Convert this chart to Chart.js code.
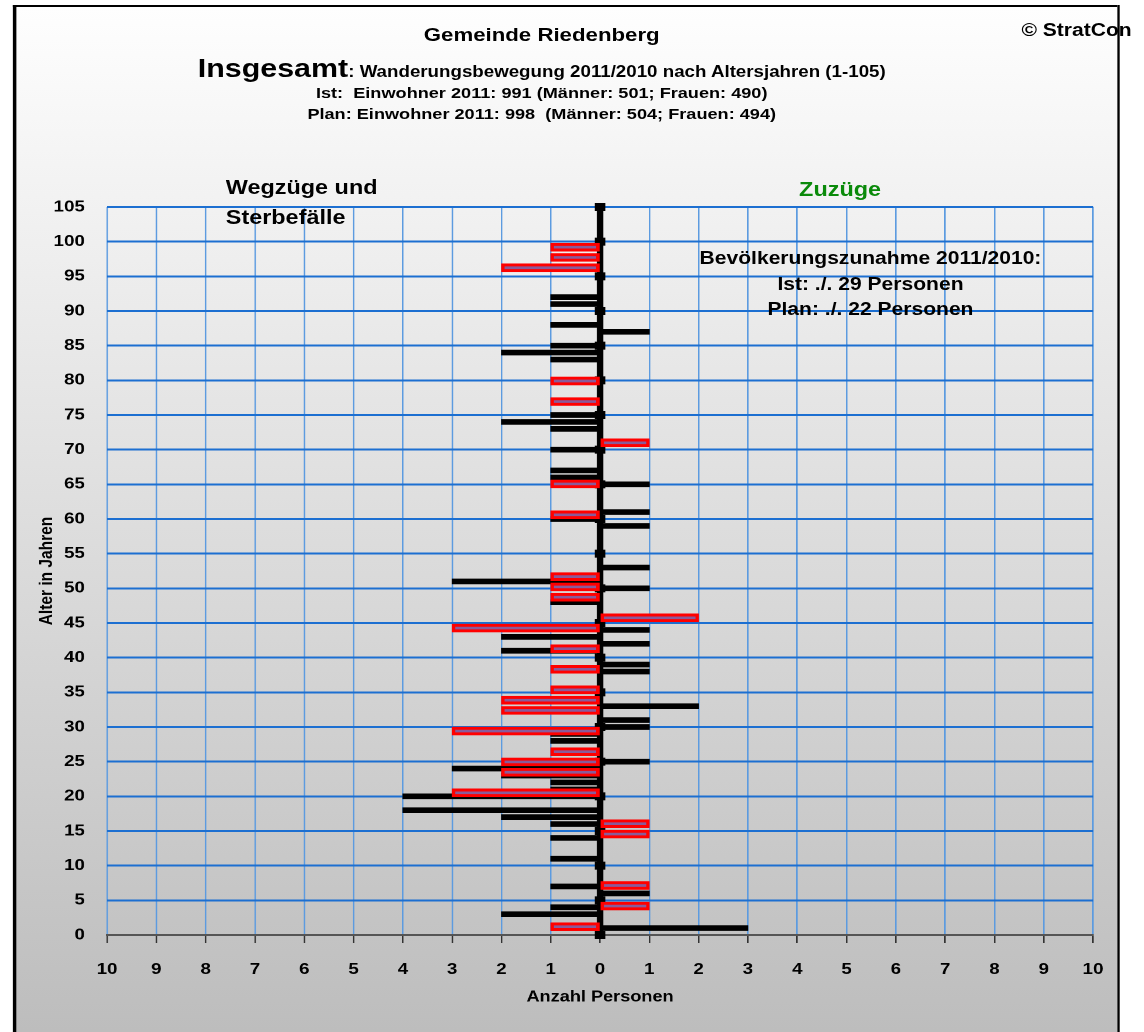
<!DOCTYPE html>
<html lang="de">
<head>
<meta charset="UTF-8">
<title>Gemeinde Riedenberg - Wanderungsbewegung 2011/2010</title>
<script src="https://cdn.jsdelivr.net/npm/chart.js"></script>
<style>
    html, body {
        margin: 0;
        padding: 0;
        background: #fff;
        overflow: hidden;
    }
    /* Excel-Grafik ist horizontal gestreckt, daher scaleX */
    #page {
        position: absolute;
        left: 0;
        top: 0;
        width: 978px;
        height: 1032px;
        transform: scaleX(1.17);
        transform-origin: 0 0;
        font-family: 'Liberation Sans', Arial, sans-serif;
        font-weight: bold;
        color: #000;
    }
    #rahmen {
        position: absolute;
        left: 11px;
        top: 5px;
        width: 941px;
        height: 1040px;
        border-left: 3px solid #000;
        border-top: 2px solid #000;
        background: linear-gradient(#fefefe, #bcbcbc);
    }
    #rahmenRechts {
        position: absolute;
        left: 955px;
        top: 5px;
        width: 2px;
        height: 1040px;
        background: #000;
    }
    canvas {
        position: absolute;
        left: 0;
        top: 0;
    }
    .txt {
        position: absolute;
        white-space: pre;
        line-height: 1;
    }
    .mitte {
        transform: translateX(-50%);
        text-align: center;
    }
</style>
</head>
<body>
<div id="page">
    <div id="rahmen"></div>
    <canvas id="chart" width="978" height="1032"></canvas>

    <div class="txt mitte" style="left:463px; top:25px; font-size:19px;">Gemeinde Riedenberg</div>
    <div class="txt mitte" style="left:463px; top:55px; font-size:26px;">Insgesamt<span style="font-size:16px;">: Wanderungsbewegung 2011/2010 nach Altersjahren (1-105)</span></div>
    <div class="txt mitte" style="left:463px; top:85px; font-size:15.5px;">Ist:  Einwohner 2011: 991 (Männer: 501; Frauen: 490)</div>
    <div class="txt mitte" style="left:463px; top:106px; font-size:15.5px;">Plan: Einwohner 2011: 998  (Männer: 504; Frauen: 494)</div>
    <div class="txt" style="left:873px; top:21px; font-size:18px;">© StratCon</div>
    <div id="rahmenRechts"></div>

    <div class="txt" style="left:193px; top:172px; font-size:20px; line-height:30px;">Wegzüge und
Sterbefälle</div>
    <div class="txt mitte" style="left:718px; top:179px; font-size:20px; color:#0a8a0a;">Zuzüge</div>
    <div class="txt mitte" style="left:744px; top:246px; font-size:18px; line-height:25.5px;">Bevölkerungszunahme 2011/2010:
Ist: ./. 29 Personen
Plan: ./. 22 Personen</div>
</div>

<script>
    // Ist: Wegzüge/Sterbefälle (links) und Zuzüge (rechts) je Altersjahr
    const istWegAlter = [92, 91, 88, 85, 84, 83, 75, 74, 73, 70, 67, 66, 60, 51, 48, 43, 41, 29, 28, 24, 23, 22, 21, 20, 18, 17, 16, 14, 11, 7, 4, 3];
    const istWeg      = [1, 1, 1, 1, 2, 1, 1, 2, 1, 1, 1, 1, 1, 3, 1, 2, 2, 1, 1, 3, 2, 1, 1, 4, 4, 2, 1, 1, 1, 1, 1, 2];
    const istZuAlter  = [87, 65, 61, 59, 53, 50, 44, 42, 39, 38, 33, 31, 30, 25, 6, 1];
    const istZu       = [1, 1, 1, 1, 1, 1, 1, 1, 1, 1, 2, 1, 1, 1, 1, 3];

    // Plan: liegt in Excel auf einer eigenen Sekundärachse (Kategorie-Nr. 0..70)
    const planWegKat = [0, 13, 15, 16, 17, 19, 21, 22, 23, 25, 27, 29, 32, 33, 34, 40, 43, 51, 53, 64, 65, 66];
    const planWeg    = [1, 3, 2, 2, 1, 3, 2, 2, 1, 1, 1, 3, 1, 1, 1, 1, 1, 1, 1, 2, 1, 1];
    const planZuKat  = [2, 4, 9, 10, 30, 47];
    const planZu     = [1, 1, 1, 1, 2, 1];

    const schrift = { family: "'Liberation Sans', Arial, sans-serif", weight: 'bold' };

    function punkte(pos, werte, vz) {
        return pos.map((p, i) => ({ x: vz * werte[i], y: p }));
    }

    const planStil = {
        yAxisID: 'y2',
        grouped: false,
        barPercentage: 1,
        categoryPercentage: 1,
        maxBarThickness: 8,
        backgroundColor: '#8a5a9a',
        borderColor: '#ff0000',
        borderWidth: 3,
        borderSkipped: false
    };
    const istStil = {
        yAxisID: 'y',
        grouped: false,
        barPercentage: 1,
        categoryPercentage: 1,
        maxBarThickness: 5,
        backgroundColor: '#000'
    };

    // dicke Nulllinie mit Kreuz-Teilstrichen
    const nullLinie = {
        id: 'nullLinie',
        beforeDatasetsDraw(chart) {
            const { ctx, scales: { x, y } } = chart;
            const x0 = x.getPixelForValue(0);
            const oben = y.getPixelForValue(105);
            const unten = y.getPixelForValue(0);
            ctx.save();
            ctx.fillStyle = '#000';
            ctx.fillRect(x0 - 2.8, oben, 5.6, unten - oben);
            y.ticks.forEach(t => {
                const py = y.getPixelForValue(t.value);
                ctx.fillRect(x0 - 4.5, py - 4, 9, 8);
            });
            ctx.restore();
        }
    };

    new Chart(document.getElementById('chart'), {
        type: 'bar',
        data: {
            datasets: [
                Object.assign({ label: 'Plan Wegzüge', data: punkte(planWegKat, planWeg, -1) }, planStil),
                Object.assign({ label: 'Plan Zuzüge', data: punkte(planZuKat, planZu, 1) }, planStil),
                Object.assign({ label: 'Ist Wegzüge', data: punkte(istWegAlter, istWeg, -1) }, istStil),
                Object.assign({ label: 'Ist Zuzüge', data: punkte(istZuAlter, istZu, 1) }, istStil)
            ]
        },
        options: {
            indexAxis: 'y',
            responsive: false,
            devicePixelRatio: 2,
            animation: false,
            layout: { padding: { top: 207, right: 43.8, bottom: 0, left: 0 } },
            plugins: {
                legend: { display: false },
                tooltip: { enabled: false }
            },
            scales: {
                x: {
                    type: 'linear',
                    min: -10,
                    max: 10,
                    ticks: {
                        stepSize: 1,
                        callback: v => Math.abs(v),
                        font: Object.assign({ size: 16 }, schrift),
                        color: '#000',
                        padding: 17
                    },
                    grid: { color: '#5c9be0', lineWidth: 1.3, tickColor: '#333', tickLength: 8, tickWidth: 1.3 },
                    border: { display: true, color: '#555', width: 2 },
                    title: {
                        display: true,
                        text: 'Anzahl Personen',
                        font: Object.assign({ size: 15.5 }, schrift),
                        color: '#000',
                        padding: { top: 0, bottom: 25.7 }
                    },
                    afterFit(scale) { scale.height = 97; }
                },
                y: {
                    type: 'linear',
                    min: 0,
                    max: 105,
                    offset: false,
                    ticks: {
                        stepSize: 5,
                        font: Object.assign({ size: 16 }, schrift),
                        color: '#000',
                        padding: 19
                    },
                    grid: { color: '#1c6fd1', lineWidth: 2, drawTicks: false, offset: false },
                    border: { display: false },
                    title: {
                        display: true,
                        text: 'Alter in Jahren',
                        font: Object.assign({ size: 15.5 }, schrift),
                        color: '#000',
                        padding: { top: 31, bottom: 0 }
                    },
                    afterFit(scale) { scale.width = 91.5; }
                },
                y2: {
                    axis: 'y',
                    type: 'linear',
                    position: 'right',
                    display: false,
                    offset: false,
                    min: -0.808,
                    max: 69.9
                }
            }
        },
        plugins: [nullLinie]
    });
</script>
</body>
</html>
